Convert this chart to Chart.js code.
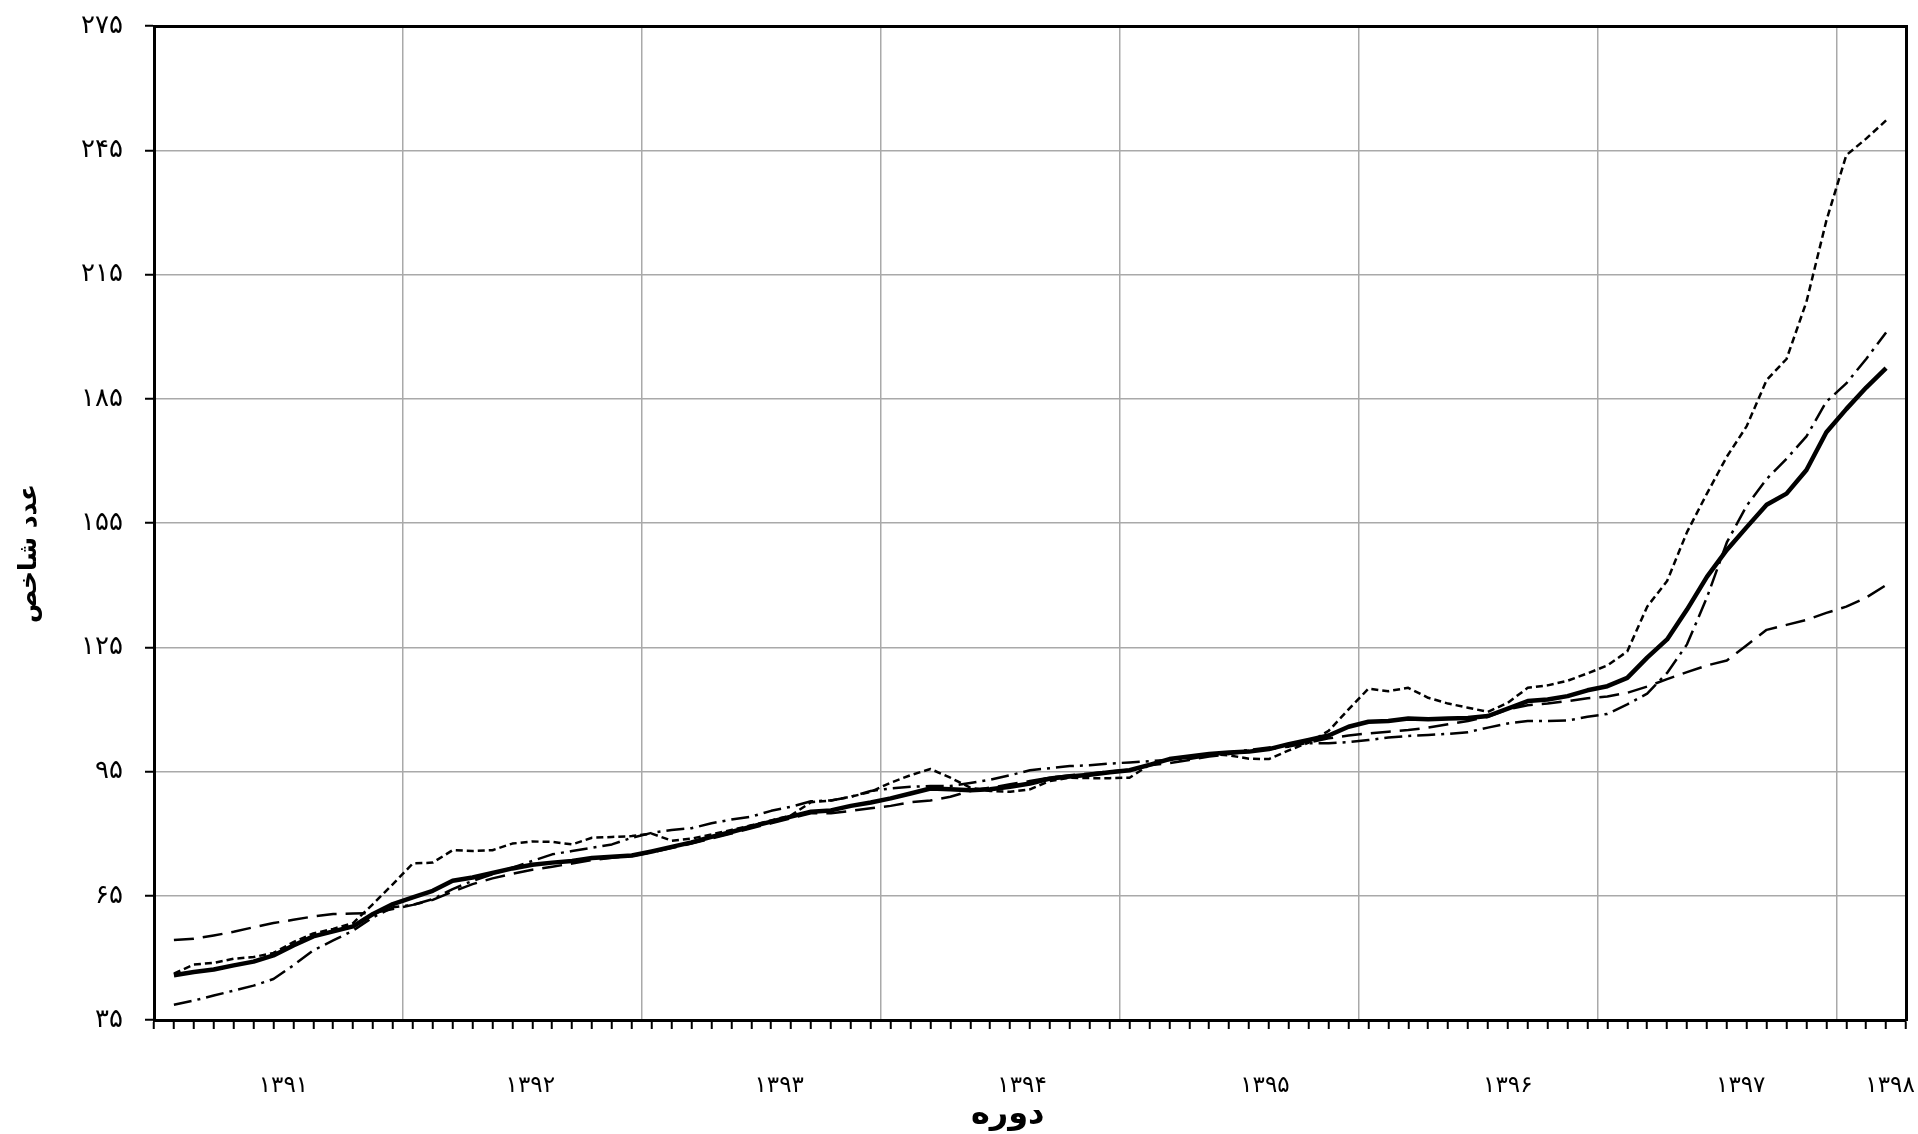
<!DOCTYPE html>
<html lang="fa">
<head>
<meta charset="utf-8">
<title>عدد شاخص</title>
<script src="https://cdn.jsdelivr.net/npm/chart.js@4.4.1/dist/chart.umd.min.js"></script>
<style>
  html, body { margin: 0; padding: 0; background: #fff; }
  #wrap { width: 1918px; height: 1134px; }
</style>
</head>
<body>
<div id="wrap"><canvas id="indexChart" width="1918" height="1134"></canvas></div>
<script>
// year labels on the month axis (months 1..87, axis runs 0..88)
const yearLabels = ['۱۳۹۱', '۱۳۹۲', '۱۳۹۳', '۱۳۹۴', '۱۳۹۵', '۱۳۹۶', '۱۳۹۷', '۱۳۹۸'];
const yearTickPos = [6.5, 18.9, 31.4, 43.6, 55.8, 68.0, 79.7, 87.2];
const yearGridPos = [12.5, 24.5, 36.5, 48.5, 60.5, 72.5, 84.5];
const yTickValues = [35, 65, 95, 125, 155, 185, 215, 245, 275];

// thick solid line
const solidSeries = [
  45.8, 46.6, 47.2, 48.2, 49.1, 50.6, 53.0, 55.2, 56.4, 57.6,
  60.6, 63.0, 64.6, 66.2, 68.6, 69.4, 70.5, 71.6, 72.5, 73.0,
  73.4, 74.1, 74.4, 74.7, 75.7, 76.8, 77.9, 79.2, 80.4, 81.7,
  82.9, 84.1, 85.3, 85.6, 86.7, 87.5, 88.5, 89.7, 90.9, 90.7,
  90.5, 90.7, 91.3, 92.1, 93.3, 93.8, 94.2, 94.8, 95.3, 96.6,
  98.0, 98.6, 99.2, 99.6, 99.8, 100.4, 101.6, 102.6, 103.7, 105.8,
  107.0, 107.2, 107.8, 107.6, 107.8, 107.9, 108.4, 110.2, 112.0, 112.4,
  113.2, 114.6, 115.6, 117.6, 122.5, 126.9, 134.1, 142.0, 148.5, 154.0,
  159.4, 162.1, 167.8, 176.9, 182.5, 187.7, 192.4
];
// short dashes
const shortDashSeries = [
  46.2, 48.4, 48.8, 49.8, 50.2, 51.2, 53.8, 55.9, 57.0, 58.4,
  63.0, 67.8, 72.8, 73.0, 76.0, 75.8, 76.0, 77.6, 78.1, 78.0,
  77.4, 79.0, 79.2, 79.4, 80.0, 78.3, 78.8, 79.8, 80.9, 82.0,
  83.2, 84.4, 87.6, 88.0, 88.9, 90.1, 92.3, 94.1, 95.6, 93.5,
  91.1, 90.3, 90.1, 90.7, 92.7, 93.5, 93.4, 93.4, 93.5, 96.6,
  98.0, 98.5, 99.2, 98.9, 98.1, 98.0, 100.1, 102.0, 104.8, 110.0,
  115.0, 114.4, 115.2, 112.8, 111.4, 110.4, 109.4, 111.6, 115.2, 115.8,
  116.9, 118.7, 120.6, 124.0, 134.8, 141.0, 152.8, 162.1, 171.0, 178.4,
  189.5, 194.6, 208.4, 228.0, 243.8, 247.8, 252.2
];
// dash-dot
const dashDotSeries = [
  38.7, 39.7, 40.9, 42.1, 43.3, 44.9, 48.2, 51.8, 54.2, 56.6,
  59.8, 62.2, 62.8, 64.2, 66.6, 68.6, 70.2, 71.8, 73.4, 75.0,
  75.8, 76.6, 77.4, 79.0, 80.2, 80.9, 81.3, 82.5, 83.4, 84.1,
  85.5, 86.5, 87.8, 88.0, 88.9, 90.3, 90.9, 91.3, 91.5, 91.5,
  92.2, 93.0, 94.1, 95.3, 95.8, 96.3, 96.5, 96.9, 97.2, 97.5,
  97.8, 98.0, 98.8, 99.6, 100.2, 100.8, 101.3, 101.8, 101.8, 102.1,
  102.6, 103.2, 103.6, 103.8, 104.1, 104.5, 105.6, 106.6, 107.2, 107.2,
  107.3, 108.2, 108.9, 111.2, 113.8, 118.8, 125.7, 137.0, 150.3, 159.2,
  165.6, 170.5, 175.9, 184.3, 188.7, 194.6, 201.0
];
// long dashes
const longDashSeries = [
  54.3, 54.6, 55.4, 56.3, 57.4, 58.4, 59.2, 60.0, 60.6, 60.7,
  60.8, 61.8, 62.8, 64.0, 66.0, 67.8, 69.2, 70.3, 71.3, 72.0,
  72.8, 73.6, 74.2, 74.6, 75.5, 76.5, 77.6, 78.8, 80.0, 81.3,
  82.5, 83.7, 84.9, 84.9, 85.5, 86.1, 86.7, 87.6, 88.0, 88.9,
  90.3, 91.1, 91.9, 92.7, 93.5, 94.1, 94.5, 95.0, 95.4, 96.5,
  97.0, 97.8, 98.6, 99.2, 99.8, 100.4, 101.0, 102.0, 103.0, 103.7,
  104.2, 104.6, 105.0, 105.6, 106.4, 107.2, 108.2, 110.0, 111.0, 111.4,
  112.0, 112.7, 113.1, 114.0, 115.5, 117.3, 119.0, 120.6, 121.8, 125.5,
  129.2, 130.4, 131.6, 133.3, 134.8, 137.0, 140.0
];

const GRAY = '#a9a9a9';
const FONT = "'DejaVu Sans', 'Noto Sans', sans-serif";

function toFa(n) {
  return String(n).replace(/\d/g, d => '۰۱۲۳۴۵۶۷۸۹'[d]);
}

function points(arr) {
  return arr.map((v, i) => ({ x: i + 1, y: v }));
}

function lineSet(arr, width, dash, order) {
  return {
    data: points(arr),
    borderColor: '#000',
    backgroundColor: '#000',
    borderWidth: width,
    borderDash: dash,
    borderJoinStyle: 'round',
    pointRadius: 0,
    tension: 0,
    fill: false,
    order: order
  };
}

const ctx = document.getElementById('indexChart').getContext('2d');

new Chart(ctx, {
  type: 'line',
  data: {
    datasets: [
      lineSet(solidSeries, 4.5, [], 0),
      lineSet(shortDashSeries, 2.5, [7, 4], 1),
      lineSet(dashDotSeries, 2.5, [18, 6, 3, 6], 2),
      lineSet(longDashSeries, 2.5, [20, 9], 3)
    ]
  },
  options: {
    responsive: false,
    animation: false,
    layout: { padding: { top: 26, right: 12, left: 0, bottom: 0 } },
    plugins: {
      legend: { display: false },
      tooltip: { enabled: false }
    },
    scales: {
      x: {
        type: 'linear',
        position: 'bottom',
        min: 0,
        max: 88,
        afterBuildTicks: function (scale) {
          const vals = [];
          for (let i = 0; i <= 88; i++) vals.push(i);
          yearTickPos.concat(yearGridPos).forEach(v => {
            if (vals.indexOf(v) < 0) vals.push(v);
          });
          vals.sort((a, b) => a - b);
          scale.ticks = vals.map(v => ({ value: v }));
        },
        afterFit: function (scale) {
          scale.height = 114;
          scale.paddingLeft = 0;
          scale.paddingRight = 0;
        },
        ticks: {
          autoSkip: false,
          maxRotation: 0,
          minRotation: 0,
          padding: 43,
          color: '#000',
          font: { family: FONT, size: 23 },
          callback: function (value) {
            const k = yearTickPos.indexOf(value);
            return k >= 0 ? yearLabels[k] : '';
          }
        },
        grid: {
          color: c => (c.tick && yearGridPos.indexOf(c.tick.value) >= 0) ? GRAY : 'transparent',
          tickColor: c => (c.tick && Number.isInteger(c.tick.value)) ? '#000' : 'transparent',
          lineWidth: 1.5,
          tickWidth: 2,
          tickLength: 9
        },
        border: { color: '#000', width: 3 },
        title: {
          display: true,
          text: 'دوره' + '    ',
          color: '#000',
          font: { family: FONT, size: 32, weight: 'bold' },
          padding: { top: 0, bottom: 0 }
        }
      },
      xTop: {
        type: 'linear',
        position: 'top',
        min: 0,
        max: 88,
        ticks: { display: false },
        grid: { drawOnChartArea: false, drawTicks: false },
        border: { color: '#000', width: 3 },
        afterFit: function (scale) { scale.height = 0; }
      },
      y: {
        type: 'linear',
        position: 'left',
        min: 35,
        max: 275,
        afterBuildTicks: function (scale) {
          scale.ticks = yTickValues.map(v => ({ value: v }));
        },
        afterFit: function (scale) {
          scale.width = 154;
          scale.paddingTop = 0;
          scale.paddingBottom = 0;
        },
        ticks: {
          padding: 22,
          color: '#000',
          font: { family: FONT, size: 26 },
          callback: v => toFa(v)
        },
        grid: {
          color: GRAY,
          tickColor: '#000',
          lineWidth: 1.5,
          tickWidth: 2,
          tickLength: 9
        },
        border: { color: '#000', width: 3 },
        title: {
          display: true,
          text: 'عدد شاخص' + '       ',
          color: '#000',
          font: { family: FONT, size: 25, weight: 'bold' },
          padding: { top: 14, bottom: 0 }
        }
      },
      yRight: {
        type: 'linear',
        position: 'right',
        min: 35,
        max: 275,
        ticks: { display: false },
        grid: { drawOnChartArea: false, drawTicks: false },
        border: { color: '#000', width: 3 },
        afterFit: function (scale) { scale.width = 0; }
      }
    }
  }
});
</script>
</body>
</html>
